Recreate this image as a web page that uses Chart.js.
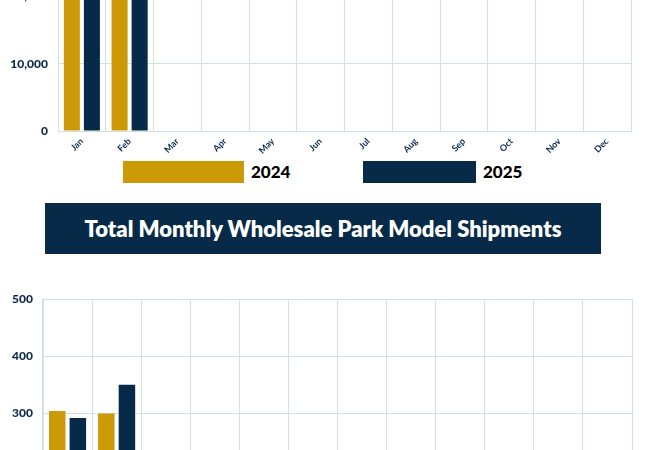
<!DOCTYPE html>
<html>
<head>
<meta charset="utf-8">
<script src="https://cdn.jsdelivr.net/npm/chart.js"></script>
<style>
  html, body { margin: 0; padding: 0; background: #fff; }
  body { width: 650px; height: 450px; overflow: hidden; position: relative; font-family: Lato, sans-serif; }
  #rvWrap { position: absolute; left: 0; top: -155px; width: 650px; height: 314px; }
  #parkWrap { position: absolute; left: 0; top: 270px; width: 650px; height: 343px; }
  #legend { position: absolute; left: 0; top: 161px; width: 650px; height: 22px; }
  .swatch { position: absolute; top: 0; height: 22px; }
  .legText { position: absolute; top: 0; line-height: 22px; font-size: 17px; font-weight: 900; color: #000; }
  #banner {
    position: absolute; left: 45px; top: 203px; width: 556px; height: 51px;
    background: #062a48; color: #fff; font-weight: 800; font-size: 22px;
    display: flex; align-items: center; justify-content: center; z-index: 2;
  }
</style>
</head>
<body>
<div id="rvWrap"><canvas id="rvChart"></canvas></div>
<div id="legend"></div>
<div id="banner">Total Monthly Wholesale Park Model Shipments</div>
<div id="parkWrap"><canvas id="parkChart"></canvas></div>
<script>
const months = ["Jan", "Feb", "Mar", "Apr", "May", "Jun", "Jul", "Aug", "Sep", "Oct", "Nov", "Dec"];
const seriesNames = ["2024", "2025"];
const rv2024 = [27900, 30000];
const rv2025 = [32000, 33600];
const park2024 = [304, 300];
const park2025 = [292, 350];

const gold = "#cc9a06";
const navy = "#062a48";
const gridColor = "#cfe3e0";
const tickColor = "#0d2b4b";
const seriesColors = [gold, navy];

// legend under the top chart, same look as the original graphic
const legendSpots = [{ box: 123, w: 121, text: 251 }, { box: 363, w: 113, text: 483 }];
const legendEl = document.getElementById("legend");
seriesNames.forEach((name, i) => {
  const sw = document.createElement("div");
  sw.className = "swatch";
  sw.style.left = legendSpots[i].box + "px";
  sw.style.width = legendSpots[i].w + "px";
  sw.style.background = seriesColors[i];
  const tx = document.createElement("div");
  tx.className = "legText";
  tx.style.left = legendSpots[i].text + "px";
  tx.textContent = name;
  legendEl.appendChild(sw);
  legendEl.appendChild(tx);
});

function xAxis(height) {
  return {
    grid: { color: gridColor, drawTicks: false, offset: true },
    border: { color: gridColor },
    ticks: {
      color: tickColor, font: { family: "Lato", size: 9, weight: "bold" },
      maxRotation: 45, minRotation: 45, padding: 5
    },
    afterFit: (scale) => { scale.height = height; }
  };
}

function yAxis(max, step, width) {
  return {
    min: 0, max: max,
    grid: { color: gridColor, drawTicks: false },
    border: { color: gridColor },
    ticks: {
      stepSize: step, color: tickColor, padding: 10,
      font: { family: "Lato", size: 12, weight: "900" }
    },
    afterFit: (scale) => { scale.width = width; }
  };
}

function bars(label, data, color) {
  return {
    label: label, data: data, backgroundColor: color,
    categoryPercentage: 0.84, barPercentage: 0.8
  };
}

new Chart(document.getElementById("rvChart"), {
  type: "bar",
  data: {
    labels: months,
    datasets: [bars(seriesNames[0], rv2024, gold), bars(seriesNames[1], rv2025, navy)]
  },
  options: {
    responsive: true,
    maintainAspectRatio: false,
    animation: false,
    layout: { padding: { top: 10, right: 19, left: 0, bottom: 0 } },
    scales: { x: xAxis(28), y: yAxis(40000, 10000, 58) },
    plugins: { legend: { display: false }, tooltip: { enabled: false } }
  }
});

new Chart(document.getElementById("parkChart"), {
  type: "bar",
  data: {
    labels: months,
    datasets: [bars(seriesNames[0], park2024, gold), bars(seriesNames[1], park2025, navy)]
  },
  options: {
    responsive: true,
    maintainAspectRatio: false,
    animation: false,
    layout: { padding: { top: 29, right: 18, left: 0, bottom: 0 } },
    scales: { x: xAxis(28), y: yAxis(500, 100, 43) },
    plugins: { legend: { display: false }, tooltip: { enabled: false } }
  }
});
</script>
</body>
</html>
